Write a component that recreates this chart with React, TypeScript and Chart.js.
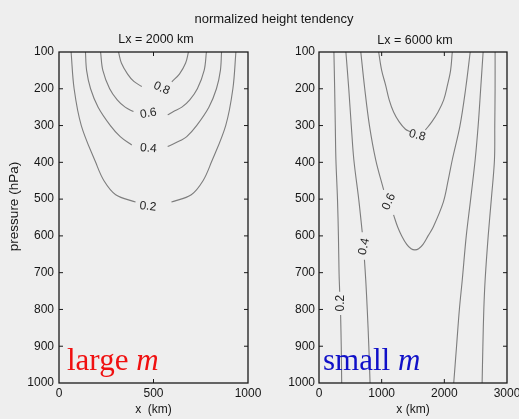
import React, { useEffect, useRef } from 'react';
import { Chart, registerables } from 'chart.js';
Chart.register(...registerables);

type Pt = [number, number]; // [x (km), pressure (hPa)]

// ---- ticks ----
const PRESSURE_TICKS = [100, 200, 300, 400, 500, 600, 700, 800, 900, 1000];
const X_TICKS_2000 = [0, 500, 1000];
const X_TICKS_6000 = [0, 1000, 2000, 3000];

// ---- Lx = 2000 km contours (branches split at the labels) ----
const L2_C08_A: Pt[] = [[315, 100], [330, 130], [363, 160], [396, 180], [438, 194]];
const L2_C08_B: Pt[] = [[597, 181], [637, 160], [670, 130], [685, 100]];
const L2_C06_A: Pt[] = [[220, 100], [232, 150], [268, 200], [308, 230], [350, 250], [394, 262]];
const L2_C06_B: Pt[] = [[575, 271], [606, 262], [650, 250], [692, 230], [732, 200], [768, 150], [780, 100]];
const L2_C04_A: Pt[] = [[140, 100], [146, 150], [167, 200], [207, 250], [272, 300], [324, 330], [385, 353]];
const L2_C04_B: Pt[] = [[575, 357], [645, 340], [676, 330], [728, 300], [793, 250], [833, 200], [854, 150], [860, 100]];
const L2_C02_A: Pt[] = [[64, 100], [80, 200], [118, 300], [194, 400], [238, 450], [300, 488], [405, 508]];
const L2_C02_B: Pt[] = [[595, 508], [700, 488], [762, 450], [806, 400], [882, 300], [920, 200], [936, 100]];

const L2_LABEL_TEXT = ['0.8', '0.6', '0.4', '0.2'];
const L2_LABEL_X = [543, 473, 473, 470];
const L2_LABEL_P = [199, 267, 362, 520];

// ---- Lx = 6000 km contours ----
const L6_C08_A: Pt[] = [[952, 100], [1000, 150], [1063, 190], [1120, 230], [1190, 263], [1280, 290], [1380, 310], [1460, 317]];
const L6_C08_B: Pt[] = [[1698, 312], [1800, 290], [1900, 263], [1990, 230], [2050, 190], [2100, 150], [2127, 100]];
const L6_C06_A: Pt[] = [[667, 100], [730, 200], [805, 300], [905, 393], [1032, 475]];
const L6_C06_B: Pt[] = [[1190, 543], [1254, 575], [1320, 600], [1400, 623], [1470, 635], [1530, 638], [1590, 635], [1660, 623], [1740, 600], [1825, 575], [1984, 508], [2060, 450], [2127, 393], [2250, 300], [2340, 200], [2413, 100]];
const L6_C04_A: Pt[] = [[429, 100], [475, 200], [515, 300], [556, 393], [635, 502], [690, 590]];
const L6_C04_B: Pt[] = [[725, 665], [746, 720], [770, 800], [795, 900], [815, 1000]];
const L6_C04_C: Pt[] = [[2619, 100], [2580, 200], [2540, 300], [2492, 393], [2420, 500], [2350, 600], [2286, 720], [2240, 800], [2195, 900], [2150, 1000]];
const L6_C02_A: Pt[] = [[238, 100], [250, 200], [260, 300], [270, 393], [295, 500], [310, 600], [320, 700], [330, 752]];
const L6_C02_B: Pt[] = [[345, 815], [355, 900], [362, 1000]];
const L6_C02_C: Pt[] = [[2810, 100], [2810, 200], [2805, 300], [2800, 393], [2750, 500], [2700, 600], [2651, 720], [2630, 800], [2615, 900], [2603, 1000]];

const L6_LABEL_TEXT = ['0.8', '0.6', '0.4', '0.2'];
const L6_LABEL_X = [1567, 1116, 719, 349];
const L6_LABEL_P = [327, 507, 629, 783];

// ---- styles ----
const L2_LABEL_ROT = [24, -10, 5, 6];
const L6_LABEL_ROT = [15, -66, -78, -90];
const FONT_FAMILY = '"Liberation Sans", Arial, Helvetica, sans-serif';
const TEXT_COLOR = '#161616';
const LINE_COLOR = '#7d7d7d';
const BG = '#eeeeee';

type PanelProps = {
  left: number;
  width: number;
  padRight: number;
  xMax: number;
  xTicks: number[];
  xTitle: string;
  yTitle: string;
  contours: Pt[][];
  labelText: string[];
  labelX: number[];
  labelP: number[];
  labelRot: number[];
  yLabelPad: number;
};

function Panel(props: PanelProps) {
  const ref = useRef<HTMLCanvasElement | null>(null);
  useEffect(() => {
    const canvas = ref.current;
    if (!canvas) return;
    const font = { family: FONT_FAMILY, size: 12 };
    const decor = {
      id: 'decor',
      afterDatasetsDraw(chart: any) {
        const ctx = chart.ctx;
        const { left, right, top, bottom } = chart.chartArea;
        const xs = chart.scales.x;
        const ys = chart.scales.y;
        ctx.save();
        // contour labels
        ctx.fillStyle = '#262626';
        ctx.font = `12px ${FONT_FAMILY}`;
        ctx.textAlign = 'center';
        ctx.textBaseline = 'middle';
        props.labelText.forEach((t, i) => {
          const px = xs.getPixelForValue(props.labelX[i]);
          const py = ys.getPixelForValue(props.labelP[i]);
          ctx.save();
          ctx.translate(px, py);
          ctx.rotate((props.labelRot[i] * Math.PI) / 180);
          ctx.fillText(t, 0, 0);
          ctx.restore();
        });
        // y-axis title
        if (props.yTitle) {
          ctx.save();
          ctx.fillStyle = TEXT_COLOR;
          ctx.font = `13.5px ${FONT_FAMILY}`;
          ctx.translate(14, (top + bottom) / 2 - 11);
          ctx.rotate(-Math.PI / 2);
          ctx.fillText(props.yTitle, 0, 0);
          ctx.restore();
        }
        // frame
        ctx.strokeStyle = '#1a1a1a';
        ctx.lineWidth = 1.3;
        ctx.strokeRect(left, top, right - left, bottom - top);
        // inward ticks
        ctx.lineWidth = 1;
        ctx.beginPath();
        xs.ticks.forEach((tk: any) => {
          if (tk.value <= xs.min || tk.value >= xs.max) return;
          const px = xs.getPixelForValue(tk.value);
          ctx.moveTo(px, bottom);
          ctx.lineTo(px, bottom - 4);
          ctx.moveTo(px, top);
          ctx.lineTo(px, top + 4);
        });
        ys.ticks.forEach((tk: any) => {
          if (tk.value <= ys.min || tk.value >= ys.max) return;
          const py = ys.getPixelForValue(tk.value);
          ctx.moveTo(left, py);
          ctx.lineTo(left + 4, py);
          ctx.moveTo(right, py);
          ctx.lineTo(right - 4, py);
        });
        ctx.stroke();
        ctx.restore();
      },
    };
    const chart = new Chart(canvas, {
      type: 'scatter',
      data: {
        datasets: props.contours.map((pts) => ({
          data: pts.map(([x, p]) => ({ x, y: p })),
          showLine: true,
          pointRadius: 0,
          borderColor: LINE_COLOR,
          borderWidth: 1.1,
          tension: 0.35,
          fill: false,
        })),
      },
      options: {
        animation: false,
        responsive: false,
        devicePixelRatio: 1,
        events: [],
        layout: { padding: { left: 0, top: 52, right: props.padRight, bottom: 0 } },
        plugins: { legend: { display: false }, tooltip: { enabled: false } },
        scales: {
          x: {
            type: 'linear',
            min: 0,
            max: props.xMax,
            afterBuildTicks: (s: any) => {
              s.ticks = props.xTicks.map((v) => ({ value: v }));
            },
            afterFit: (s: any) => {
              s.height = 36;
              s.paddingLeft = 0;
              s.paddingRight = 0;
            },
            ticks: {
              font,
              color: TEXT_COLOR,
              padding: 3,
              maxRotation: 0,
              autoSkip: false,
              callback: (v: any) => String(v),
            },
            grid: { display: false, drawTicks: false },
            border: { display: false },
            title: { display: true, text: props.xTitle, font, color: TEXT_COLOR, padding: { top: 0, bottom: 2 } },
          },
          y: {
            type: 'linear',
            reverse: true,
            min: 100,
            max: 1000,
            afterBuildTicks: (s: any) => {
              s.ticks = PRESSURE_TICKS.map((v) => ({ value: v }));
            },
            afterFit: (s: any) => {
              s.width = 59;
            },
            ticks: {
              font,
              color: TEXT_COLOR,
              padding: props.yLabelPad,
              autoSkip: false,
              callback: (v: any) => String(v),
            },
            grid: { display: false, drawTicks: false },
            border: { display: false },
          },
        },
      },
      plugins: [decor],
    } as any);
    return () => chart.destroy();
  }, []);
  return (
    <canvas
      ref={ref}
      width={props.width}
      height={419}
      style={{ position: 'absolute', left: props.left, top: 0, width: props.width, height: 419 }}
    />
  );
}

const textStyle = (x: number, y: number, size: number): React.CSSProperties => ({
  position: 'absolute',
  left: x,
  top: y,
  transform: 'translate(-50%, -50%)',
  whiteSpace: 'nowrap',
  fontFamily: FONT_FAMILY,
  fontSize: size,
  color: TEXT_COLOR,
  lineHeight: 1,
});

export default function App() {
  return (
    <div style={{ position: 'fixed', left: 0, top: 0, width: 519, height: 419, background: BG, overflow: 'hidden' }}>
      <Panel
        left={0}
        width={275}
        padRight={27}
        xMax={1000}
        xTicks={X_TICKS_2000}
        xTitle="x  (km)"
        yTitle="pressure (hPa)"
        contours={[L2_C08_A, L2_C08_B, L2_C06_A, L2_C06_B, L2_C04_A, L2_C04_B, L2_C02_A, L2_C02_B]}
        labelText={L2_LABEL_TEXT}
        labelX={L2_LABEL_X}
        labelP={L2_LABEL_P}
        labelRot={L2_LABEL_ROT}
        yLabelPad={5}
      />
      <Panel
        left={260}
        width={259}
        padRight={12}
        xMax={3000}
        xTicks={X_TICKS_6000}
        xTitle="x (km)"
        yTitle=""
        contours={[L6_C08_A, L6_C08_B, L6_C06_A, L6_C06_B, L6_C04_A, L6_C04_B, L6_C04_C, L6_C02_A, L6_C02_B, L6_C02_C]}
        labelText={L6_LABEL_TEXT}
        labelX={L6_LABEL_X}
        labelP={L6_LABEL_P}
        labelRot={L6_LABEL_ROT}
        yLabelPad={4}
      />
      <div style={textStyle(274, 18, 13)}>normalized height tendency</div>
      <div style={textStyle(156, 39, 12.5)}>Lx = 2000 km</div>
      <div style={textStyle(415, 40, 12.5)}>Lx = 6000 km</div>
      <div
        style={{
          position: 'absolute',
          left: 67,
          top: 369,
          transform: 'translateY(-80%)',
          fontFamily: '"Liberation Serif", "Times New Roman", serif',
          fontSize: 31,
          color: '#f01010',
          whiteSpace: 'nowrap',
          lineHeight: 1,
        }}
      >
        large <i>m</i>
      </div>
      <div
        style={{
          position: 'absolute',
          left: 323,
          top: 369,
          transform: 'translateY(-80%)',
          fontFamily: '"Liberation Serif", "Times New Roman", serif',
          fontSize: 31,
          color: '#1010c8',
          whiteSpace: 'nowrap',
          lineHeight: 1,
        }}
      >
        small <i>m</i>
      </div>
    </div>
  );
}
